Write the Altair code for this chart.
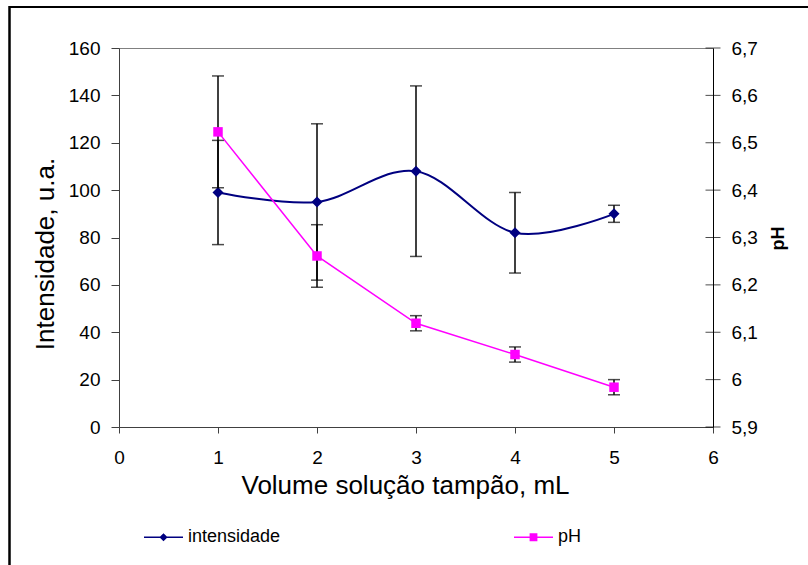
import altair as alt
import pandas as pd

# ---- data ----
volume = [1, 2, 3, 4, 5]
intensidade = [99, 95, 108, 82, 90]
intensidade_err = [22, 33, 36, 17, 3.6]
ph = [6.523, 6.261, 6.119, 6.053, 5.984]
ph_err = [0.118, 0.066, 0.016, 0.016, 0.016]

series = ["intensidade", "pH"]
colors = ["#000080", "#FF00FF"]

x_ticks = [0, 1, 2, 3, 4, 5, 6]
y_ticks = [0, 20, 40, 60, 80, 100, 120, 140, 160]
ph_ticks = [5.9, 6.0, 6.1, 6.2, 6.3, 6.4, 6.5, 6.6, 6.7]

# legend symbol paths (line + marker)
legend_paths = [
    "M-1,-0.04H1V0.04H-1Z M0,-0.21L0.21,0L0,0.21L-0.21,0Z",
    "M-1,-0.04H1V0.04H-1Z M-0.2,-0.2H0.2V0.2H-0.2Z",
]

df = pd.DataFrame({
    "volume": volume,
    "intensidade": intensidade,
    "int_lo": [v - e for v, e in zip(intensidade, intensidade_err)],
    "int_hi": [v + e for v, e in zip(intensidade, intensidade_err)],
    "ph": ph,
    "ph_lo": [v - e for v, e in zip(ph, ph_err)],
    "ph_hi": [v + e for v, e in zip(ph, ph_err)],
})
df_leg = pd.DataFrame({"serie": series})
df_phticks = pd.DataFrame({"t": ph_ticks, "xe": [6] * len(ph_ticks)})

FONT = "Liberation Sans"

xscale = alt.Scale(domain=[0, 6], nice=False, zero=False)
x_axis = alt.Axis(values=x_ticks, title="Volume solução tampão, mL", format="d",
                  tickSize=6, labelPadding=15, labelFontSize=19, labelFlush=False,
                  titleFontSize=26, titleX=286, titleY=66,
                  titleBaseline="alphabetic", titleAlign="center",
                  domainColor="#404040", tickColor="#404040")
X = alt.X("volume:Q", scale=xscale, axis=x_axis)

iscale = alt.Scale(domain=[0, 160], nice=False, zero=False)
i_axis = alt.Axis(values=y_ticks, title="Intensidade, u.a.", tickSize=8, labelPadding=11,
                  labelFontSize=19, labelFlush=False, titleFontSize=26, titleAngle=270,
                  titleX=-66, titleY=205.5, titleBaseline="alphabetic", titleAlign="center",
                  domainColor="#404040", tickColor="#404040")

pscale = alt.Scale(domain=[5.9, 6.7], nice=False, zero=False)
p_axis = alt.Axis(orient="right", values=ph_ticks, title="pH", tickSize=0, labelPadding=18,
                  labelFontSize=19, labelFlush=False,
                  labelExpr="replace(format(datum.value, '.2~f'), '.', ',')",
                  titleFontSize=18, titleFontWeight="bold", titleAngle=270,
                  titleX=70, titleY=190, titleBaseline="alphabetic", titleAlign="center",
                  domainColor="#000000")

# ---- intensity group ----
bi = alt.Chart(df)
i_line = bi.mark_line(color=colors[0], strokeWidth=2, interpolate="cardinal").encode(
    x=X, y=alt.Y("intensidade:Q", scale=iscale, axis=i_axis))
i_err = bi.mark_rule(color="black", strokeWidth=1.5).encode(
    x=X, y=alt.Y("int_lo:Q", scale=iscale, axis=i_axis), y2="int_hi:Q")
i_cap_lo = bi.mark_tick(color="black", thickness=1.5, size=12, orient="horizontal").encode(
    x=X, y=alt.Y("int_lo:Q", scale=iscale, axis=i_axis))
i_cap_hi = bi.mark_tick(color="black", thickness=1.5, size=12, orient="horizontal").encode(
    x=X, y=alt.Y("int_hi:Q", scale=iscale, axis=i_axis))
i_pts = bi.mark_point(shape="diamond", filled=True, size=121, color=colors[0], opacity=1).encode(
    x=X, y=alt.Y("intensidade:Q", scale=iscale, axis=i_axis))

leg = alt.Legend(title=None, orient="none", legendX=24, legendY=468.5, direction="horizontal",
                 symbolSize=1521, labelFontSize=18, labelFont=FONT, labelOffset=4,
                 columnPadding=232, padding=0, labelColor="black")
leg_layer = alt.Chart(df_leg).mark_point(filled=True, size=0, opacity=1).encode(
    color=alt.Color("serie:N", scale=alt.Scale(domain=series, range=colors), legend=leg),
    shape=alt.Shape("serie:N", scale=alt.Scale(domain=series, range=legend_paths), legend=leg),
)

int_group = alt.layer(i_line, i_err, i_cap_lo, i_cap_hi, i_pts, leg_layer)

# ---- pH group ----
bp = alt.Chart(df)
p_line = bp.mark_line(color=colors[1], strokeWidth=1.5).encode(
    x=X, y=alt.Y("ph:Q", scale=pscale, axis=p_axis))
p_err = bp.mark_rule(color="black", strokeWidth=1.5).encode(
    x=X, y=alt.Y("ph_lo:Q", scale=pscale, axis=p_axis), y2="ph_hi:Q")
p_cap_lo = bp.mark_tick(color="black", thickness=1.5, size=12, orient="horizontal").encode(
    x=X, y=alt.Y("ph_lo:Q", scale=pscale, axis=p_axis))
p_cap_hi = bp.mark_tick(color="black", thickness=1.5, size=12, orient="horizontal").encode(
    x=X, y=alt.Y("ph_hi:Q", scale=pscale, axis=p_axis))
p_pts = bp.mark_point(shape="square", filled=True, size=90, color=colors[1], opacity=1).encode(
    x=X, y=alt.Y("ph:Q", scale=pscale, axis=p_axis))
p_ticks = alt.Chart(df_phticks).mark_tick(color="black", thickness=1, size=15, orient="horizontal").encode(
    x=alt.X("xe:Q", scale=xscale, axis=x_axis), y=alt.Y("t:Q", scale=pscale, axis=p_axis))

ph_group = alt.layer(p_line, p_err, p_cap_lo, p_cap_hi, p_pts, p_ticks)

# ---- outer frame (decoration) ----
frame_top = alt.Chart(df_leg).mark_rule(color="black", strokeWidth=2).encode(
    x=alt.value(-110), x2=alt.value(700), y=alt.value(-41))
frame_left = alt.Chart(df_leg).mark_rule(color="black", strokeWidth=2).encode(
    x=alt.value(-109.5), y=alt.value(-42), y2=alt.value(530))

chart = alt.layer(int_group, ph_group, frame_top, frame_left).resolve_scale(
    y="independent"
).properties(
    width=594, height=379,
    padding={"left": 119, "top": 48, "right": 95, "bottom": 138},
    autosize=alt.AutoSizeParams(type="none"),
    background="white",
).configure_view(
    stroke="#808080", strokeWidth=1
).configure_axis(
    grid=False, labelFont=FONT, titleFont=FONT, labelColor="black", titleColor="black",
    titleFontWeight="normal",
)

chart.save("out.html", embed_options={"renderer": "svg", "actions": False})
